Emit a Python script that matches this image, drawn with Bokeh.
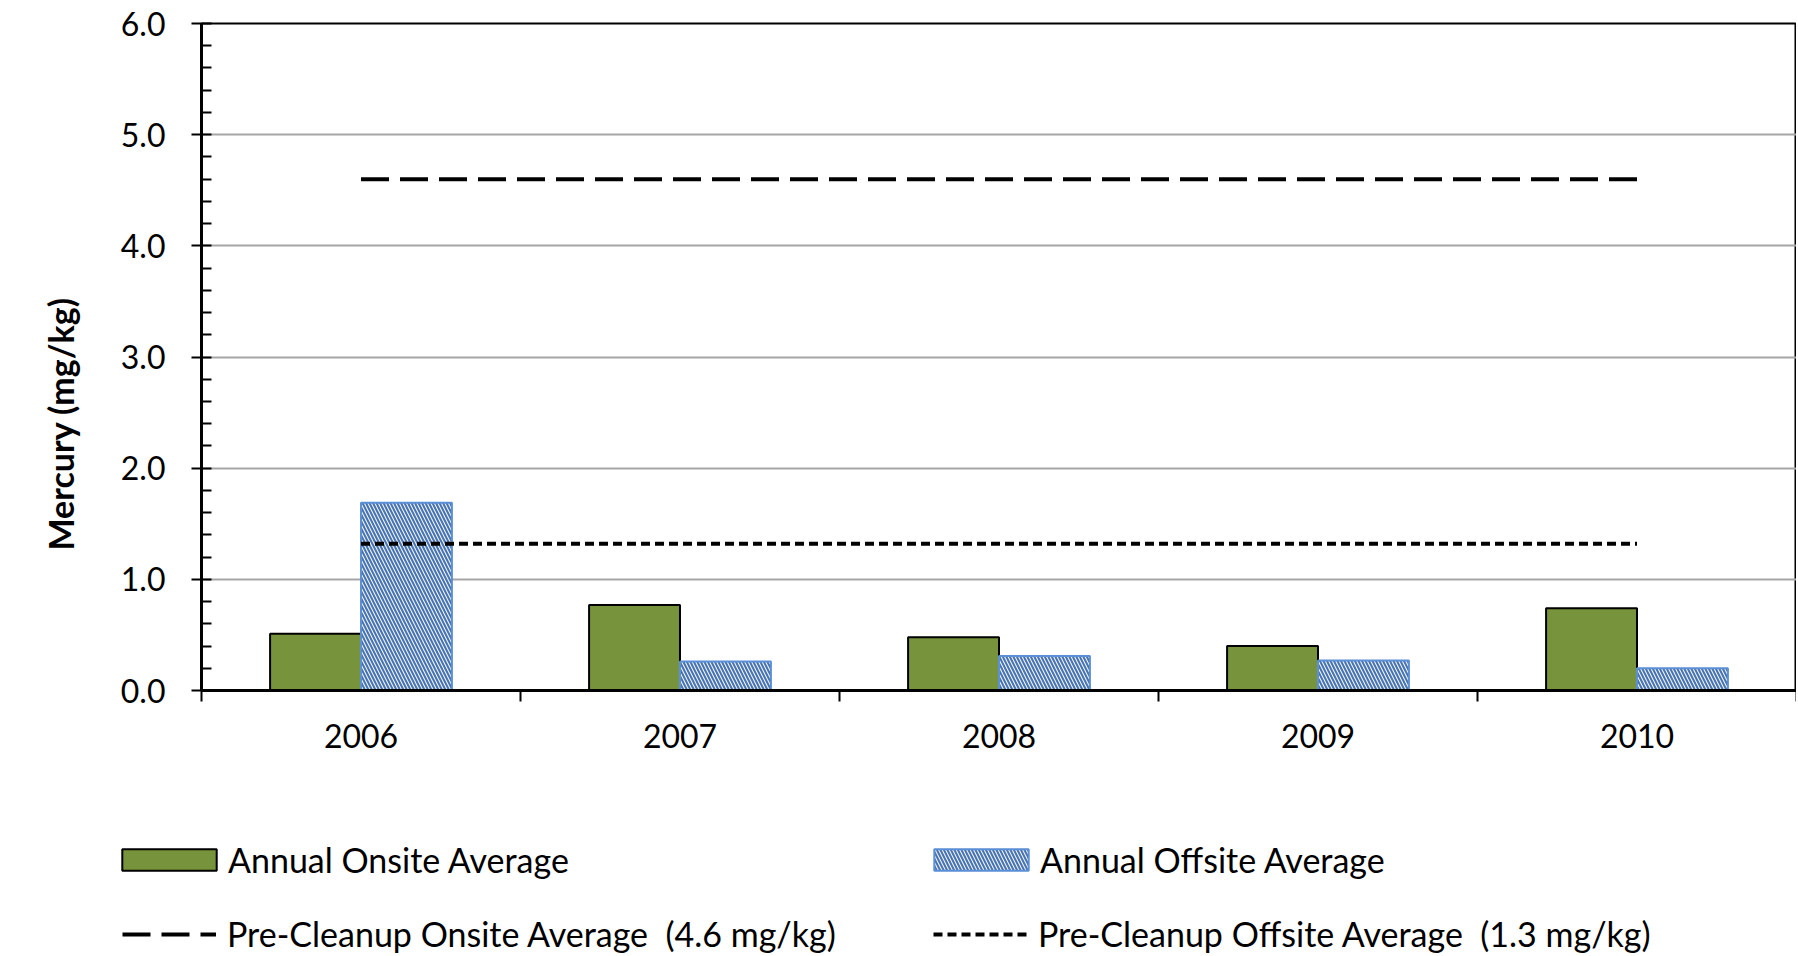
from bokeh.plotting import figure
from bokeh.models import (ColumnDataSource, Range1d, FixedTicker, NumeralTickFormatter,
                          Legend, LegendItem, Title)
from bokeh.transform import dodge
from bokeh.embed import file_html
from bokeh.resources import INLINE

years = ["2006", "2007", "2008", "2009", "2010"]
onsite = [0.51, 0.77, 0.48, 0.40, 0.74]
offsite = [1.69, 0.26, 0.31, 0.27, 0.20]
pre_onsite = 4.6
pre_offsite = 1.32
y_title = "Mercury (mg/kg)"
onsite_label = "Annual Onsite Average"
offsite_label = "Annual Offsite Average"
pre_onsite_label = "Pre-Cleanup Onsite Average  (4.6 mg/kg)"
pre_offsite_label = "Pre-Cleanup Offsite Average  (1.3 mg/kg)"

FONT = "Lato"
GREEN = dict(fill_color="#77933c", line_color="black", line_width=2)
HATCH = dict(fill_color="#edf2fa", hatch_pattern="left_diagonal_line",
             hatch_color="#4773b0", hatch_scale=7, hatch_weight=2.0,
             line_color="#5b8fd6", line_width=2)
LONG = dict(line_color="black", line_width=4, line_dash="28 11")
SHORT = dict(line_color="black", line_width=4, line_dash="9 5")

idx = list(range(len(years)))
src = ColumnDataSource(dict(x=idx, onsite=onsite, offsite=offsite))
pre_src = ColumnDataSource(dict(x=[idx[0], idx[-1]], on=[pre_onsite] * 2,
                                off=[pre_offsite] * 2))


def draw(fig):
    bw = 0.285
    r1 = fig.vbar(x=dodge("x", -bw / 2, range=fig.x_range), top="onsite", width=bw,
                  source=src, **GREEN)
    r2 = fig.vbar(x=dodge("x", bw / 2, range=fig.x_range), top="offsite", width=bw,
                  source=src, **HATCH)
    r3 = fig.line(x="x", y="on", source=pre_src, **LONG)
    r4 = fig.line(x="x", y="off", source=pre_src, **SHORT)
    return r1, r2, r3, r4


p = figure(width=1796, height=790, output_backend="svg", toolbar_location=None,
           x_range=Range1d(-0.5, len(years) - 0.5), y_range=Range1d(0, 6),
           min_border_left=201, min_border_right=0, min_border_top=23,
           min_border_bottom=100)
p.outline_line_color = "black"
p.outline_line_width = 2
p.xgrid.visible = False
p.ygrid.grid_line_color = "#a6a6a6"
p.ygrid.grid_line_width = 2
p.ygrid.ticker = FixedTicker(ticks=[1, 2, 3, 4, 5])
draw(p)

# x axis: ticks at category boundaries, labels at centres
xa = p.xaxis[0]
xa.ticker = FixedTicker(ticks=idx, minor_ticks=[i - 0.5 for i in idx] + [idx[-1] + 0.5])
xa.major_label_overrides = {i: y for i, y in zip(idx, years)}
xa.major_tick_line_color = None
xa.major_tick_out = 0
xa.major_tick_in = 0
xa.minor_tick_line_color = "black"
xa.minor_tick_line_width = 2
xa.minor_tick_out = 11
xa.minor_tick_in = 0
xa.axis_line_color = "black"
xa.axis_line_width = 3
xa.major_label_text_font = FONT
xa.major_label_text_font_size = "32px"
xa.major_label_text_color = "black"
xa.major_label_standoff = 22

ya = p.yaxis[0]
ya.ticker = FixedTicker(ticks=[0, 1, 2, 3, 4, 5, 6],
                        minor_ticks=[i / 5 for i in range(31)])
ya.formatter = NumeralTickFormatter(format="0.0")
ya.major_tick_out = 10
ya.major_tick_in = 0
ya.major_tick_line_width = 2
ya.minor_tick_out = 0
ya.minor_tick_in = 10
ya.minor_tick_line_width = 2
ya.axis_line_color = "black"
ya.axis_line_width = 3
ya.major_label_text_font = FONT
ya.major_label_text_font_size = "32px"
ya.major_label_text_color = "black"
ya.major_label_standoff = 26

p.add_layout(Title(text=y_title, align="left", offset=140, standoff=70,
                   vertical_align="top",
                   text_font=FONT, text_font_size="34px", text_font_style="bold",
                   text_color="black"), "left")

# legend strip below the chart (its renderers are hidden; only the key is shown)
lf = figure(width=1796, height=164, output_backend="svg", toolbar_location=None,
            x_range=Range1d(-0.5, len(years) - 0.5), y_range=Range1d(0, 6),
            min_border_left=0, min_border_right=0, min_border_top=0, min_border_bottom=0)
lf.axis.visible = False
lf.grid.visible = False
lf.outline_line_color = None
rs = draw(lf)
for r in rs:
    r.visible = False

common = dict(orientation="horizontal", border_line_color=None, background_fill_alpha=0,
              inactive_fill_alpha=0, padding=0, margin=0, spacing=32, label_height=22,
              label_text_font=FONT, label_text_font_size="34px", label_text_color="black")
# row 1: bar keys (area keys are inset 10% by Bokeh, so the box is widened)
leg1 = Legend(items=[LegendItem(label=onsite_label, renderers=[rs[0]]),
                     LegendItem(label=offsite_label, renderers=[rs[1]])],
              location=(110, 74), glyph_width=118, glyph_height=27,
              label_standoff=0, label_width=662, **common)
# row 2: line keys
leg2 = Legend(items=[LegendItem(label=pre_onsite_label, renderers=[rs[2]]),
                     LegendItem(label=pre_offsite_label, renderers=[rs[3]])],
              location=(122, 0), glyph_width=94, glyph_height=22,
              label_standoff=11, label_width=674, **common)
lf.add_layout(leg1, "center")
lf.add_layout(leg2, "center")

open("out.html", "w").write(file_html([p, lf], INLINE))
